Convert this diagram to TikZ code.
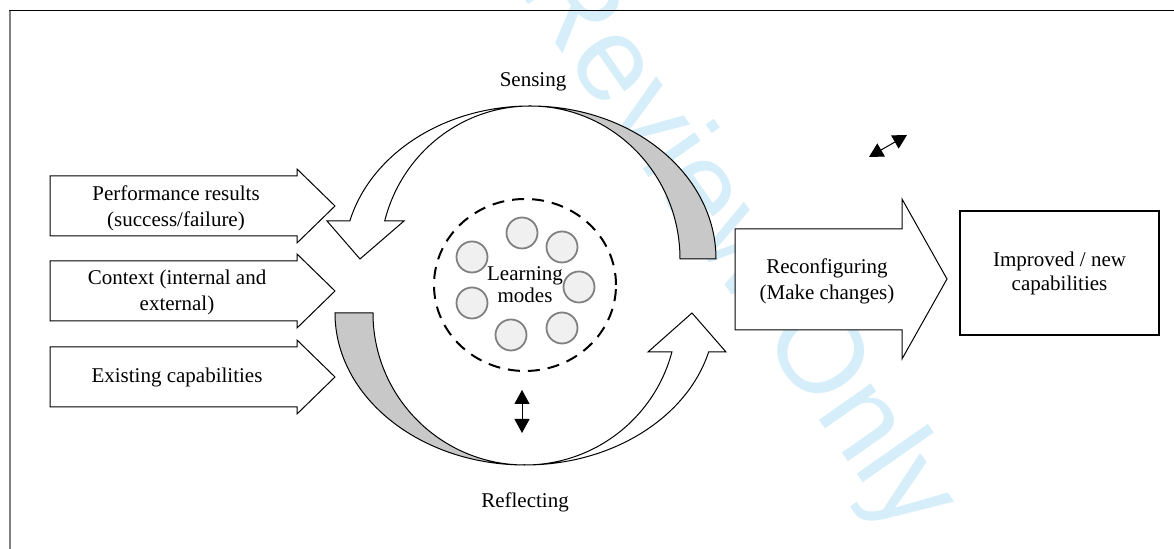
\documentclass[tikz,border=0pt]{standalone}
\usepackage{fontspec}
\setmainfont{Liberation Serif}
\newfontfamily\stampfont{Liberation Sans}
\usetikzlibrary{arrows.meta}
\definecolor{bandgrey}{RGB}{200,200,200}
\definecolor{modefill}{RGB}{240,240,240}
\definecolor{modeline}{RGB}{128,128,128}
\definecolor{stampblue}{RGB}{214,238,250}

\begin{document}
\begin{tikzpicture}[x=5pt,y=5pt,
  txt/.style={align=center,font=\fontsize{10.5}{13}\selectfont},
  blk/.style={draw,fill=white,line width=0.5pt,line join=miter},
  band/.style={draw,fill=bandgrey,line width=0.5pt},
  mode/.style={circle,draw=modeline,fill=modefill,line width=0.9pt,minimum size=15.5pt,inner sep=0pt},
  outbox/.style={draw,line width=1pt,minimum width=99.5pt,minimum height=62pt,align=center,font=\fontsize{10.5}{12}\selectfont},
  dbl/.style={{Triangle[length=7pt,width=7.5pt]}-{Triangle[length=7pt,width=7.5pt]},line width=0.5pt}]
  \useasboundingbox (0,0) rectangle (117.4,54.9);
  % stamp across the page, behind everything else
  \begin{scope}
    \clip (0,0) rectangle (117.4,54.9);
    \node[text=stampblue,font=\stampfont\fontsize{60}{60}\selectfont,rotate=-55,anchor=base west,inner sep=0pt] (stamp) at (51.6,56.2) {Review Only};
  \end{scope}
  % page frame
  \draw[line width=0.5pt] (0.9,53.8) -- (117.4,53.8);
  \draw[gray,line width=1pt] (1.0,53.8) -- (1.0,0);
  % inputs on the left
  \draw[blk] (5.0,31.3) -- ++(0,6) -- ++(24.7,0) -- ++(0,0.7) -- ++(3.8,-3.7) -- ++(-3.8,-3.7) -- ++(0,0.7) -- cycle;
  \draw[blk] (5.0,22.8) -- ++(0,6) -- ++(24.7,0) -- ++(0,0.7) -- ++(3.8,-3.7) -- ++(-3.8,-3.7) -- ++(0,0.7) -- cycle;
  \draw[blk] (5.0,14.2) -- ++(0,6) -- ++(24.7,0) -- ++(0,0.7) -- ++(3.8,-3.7) -- ++(-3.8,-3.7) -- ++(0,0.7) -- cycle;
  \node[txt] (perf) at (17.6,34.1) {Performance results\\(success/failure)};
  \node[txt] (ctx) at (17.7,25.7) {Context (internal and\\external)};
  \node[txt] (exist) at (17.7,17.2) {Existing capabilities};
  % sensing: grey back band, then the white front with its head
  \draw[band] (53.0,44.3) arc[start angle=90,end angle=0,x radius=18.6,y radius=15.3]
    -- (68.0,29.0) arc[start angle=0,end angle=90,x radius=15.0,y radius=15.3] -- cycle;
  \draw[blk] (53.0,44.3) arc[start angle=90,end angle=165.6,x radius=18.6,y radius=15.3]
    -- (32.7,32.8) -- (36.0,29.0) -- (40.4,32.8) -- (38.47,32.8)
    arc[start angle=165.6,end angle=90,x radius=15.0,y radius=15.3] -- cycle;
  \node[txt] (sensing) at (53.3,46.7) {Sensing};
  % reflecting: same thing turned round
  \draw[band] (33.5,23.6) arc[start angle=180,end angle=270,x radius=19.0,y radius=15.2]
    arc[start angle=270,end angle=180,x radius=15.2,y radius=15.2] -- cycle;
  \draw[blk] (52.5,8.4) arc[start angle=270,end angle=345.13,x radius=19.0,y radius=15.2]
    -- (72.6,19.7) -- (69.2,23.6) -- (64.8,19.7) -- (67.19,19.7)
    arc[start angle=345.13,end angle=270,x radius=15.2,y radius=15.2] -- cycle;
  \node[txt] (reflecting) at (52.5,4.7) {Reflecting};
  % learning modes in the middle
  \draw[line width=1pt,dash pattern=on 6pt off 4pt] (52.5,26.4) ellipse [x radius=9.1,y radius=8.6];
  \node[mode] (m1) at (52.2,31.6) {};
  \node[mode] (m2) at (56.2,30.2) {};
  \node[mode] (m3) at (47.2,29.2) {};
  \node[mode] (m4) at (57.9,26.2) {};
  \node[mode] (m5) at (47.2,24.6) {};
  \node[mode] (m6) at (51.1,21.4) {};
  \node[mode] (m7) at (56.2,22.1) {};
  \node[align=center,font=\fontsize{10.5}{11}\selectfont] (modes) at (52.5,26.4) {Learning\\modes};
  \coordinate (v1) at (52.2,15.9);
  \coordinate (v2) at (52.2,11.6);
  \draw[dbl] (v1) -- (v2);
  % output side
  \draw[blk] (73.5,21.9) -- (73.5,32.0) -- (90.2,32.0) -- (90.2,35.0) -- (94.7,27.0) -- (90.2,19.0) -- (90.2,21.9) -- cycle;
  \node[txt] (recon) at (82.7,26.8) {Reconfiguring\\(Make changes)};
  \node[outbox] (improved) at (105.95,27.6) {Improved / new\\capabilities};
  \coordinate (s1) at (86.9,39.2);
  \coordinate (s2) at (90.7,41.4);
  \draw[dbl] (s1) -- (s2);
\end{tikzpicture}
\end{document}
